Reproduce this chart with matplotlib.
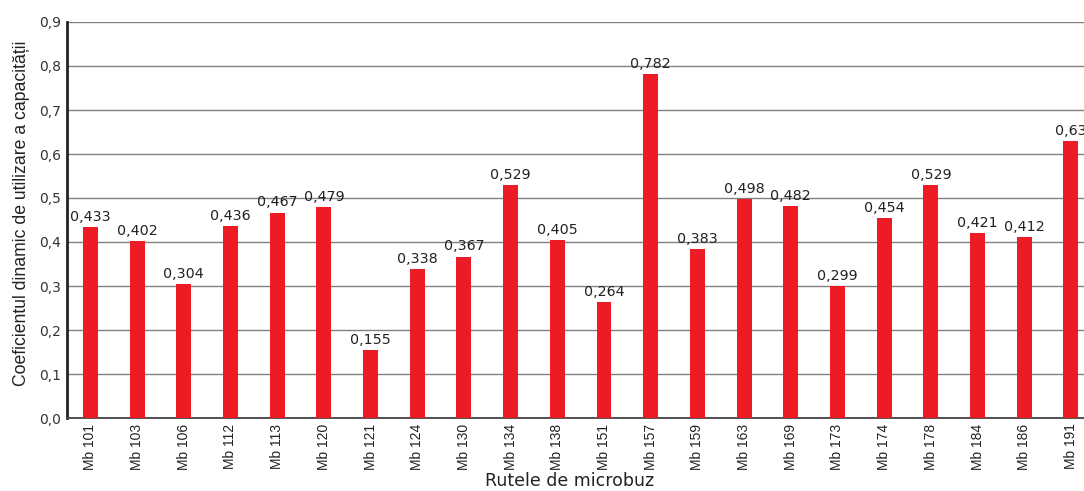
import matplotlib
matplotlib.use("Agg")
import matplotlib.pyplot as plt
from matplotlib.ticker import FuncFormatter

routes = ["Mb 101", "Mb 103", "Mb 106", "Mb 112", "Mb 113", "Mb 120", "Mb 121", "Mb 124",
          "Mb 130", "Mb 134", "Mb 138", "Mb 151", "Mb 157", "Mb 159", "Mb 163", "Mb 169",
          "Mb 173", "Mb 174", "Mb 178", "Mb 184", "Mb 186", "Mb 191"]
values = [0.433, 0.402, 0.304, 0.436, 0.467, 0.479, 0.155, 0.338,
          0.367, 0.529, 0.405, 0.264, 0.782, 0.383, 0.498, 0.482,
          0.299, 0.454, 0.529, 0.421, 0.412, 0.63]
labels = ["0,433", "0,402", "0,304", "0,436", "0,467", "0,479", "0,155", "0,338",
          "0,367", "0,529", "0,405", "0,264", "0,782", "0,383", "0,498", "0,482",
          "0,299", "0,454", "0,529", "0,421", "0,412", "0,63"]

fig = plt.figure(figsize=(10.84, 4.91), dpi=100)
ax = fig.add_axes([67/1084, 1 - 418/491, 1017/1084, 396/491])

x = list(range(len(routes)))
ax.bar(x, values, width=0.32, color="#ed1c24", zorder=3)
for xi, v, lab in zip(x, values, labels):
    ax.text(xi, v + 0.007, lab, ha="center", va="bottom", fontsize=10.3,
            family="DejaVu Sans", color="#222222", zorder=4)

ax.set_ylim(0, 0.9)
ax.set_xlim(-0.5, 21.28)
ax.set_yticks([i / 10 for i in range(10)])
ax.yaxis.set_major_formatter(FuncFormatter(lambda v, p: f"{v:.1f}".replace(".", ",")))
ax.set_xticks(x)
ax.set_xticklabels(routes, rotation=90, family="Liberation Sans", fontsize=10,
                   color="#222222")
for t in ax.get_yticklabels():
    t.set_family("DejaVu Sans")
    t.set_fontsize(10)
    t.set_color("#333333")
ax.tick_params(axis="both", length=0, pad=4)
ax.yaxis.grid(True, color="#808080", linewidth=1.0, zorder=0)
ax.set_axisbelow(True)
for s in ["top", "right"]:
    ax.spines[s].set_visible(False)
ax.spines["left"].set_linewidth(2)
ax.spines["left"].set_color("#222222")
ax.spines["bottom"].set_linewidth(1.3)
ax.spines["bottom"].set_color("#444444")

fig.text(22/1084, 1 - 213/491, "Coeficientul dinamic de utilizare a capacității",
         rotation=90, ha="center", va="center", fontsize=12.7,
         family="Liberation Sans", color="#222222")
fig.text(570/1084, 1 - 481/491, "Rutele de microbuz", ha="center", va="center",
         fontsize=12.5, family="DejaVu Sans", color="#222222")

fig.savefig("out.png", dpi=100)
